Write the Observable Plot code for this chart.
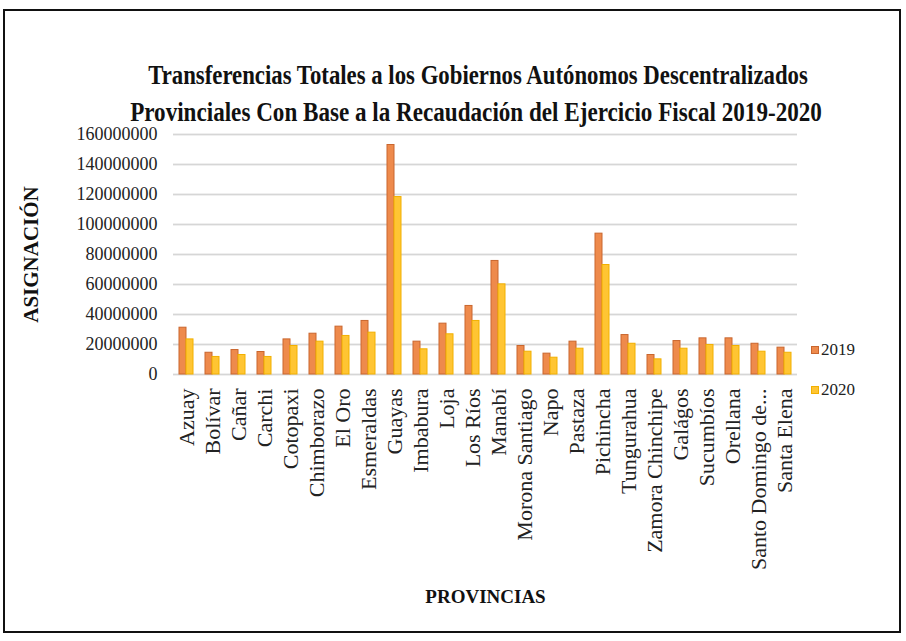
<!DOCTYPE html>
<html>
<head>
<meta charset="utf-8">
<script src="https://cdn.jsdelivr.net/npm/d3@7"></script>
<script src="https://cdn.jsdelivr.net/npm/@observablehq/plot@0.6"></script>
<style>
  html, body { margin: 0; padding: 0; background: #fff; }
  #wrap { position: relative; width: 906px; height: 641px; overflow: hidden; font-family: "Liberation Serif", "Times New Roman", serif; }
  #frame { position: absolute; left: 3px; top: 9px; width: 898px; height: 624px; border: 2px solid #111; box-sizing: border-box; }
  #title { position: absolute; left: 0; top: 0; }
  #chart { position: absolute; left: 0; top: 120px; }
  .leg { position: absolute; font-size: 17px; color: #222; display: flex; align-items: center; }
  .sw { width: 8px; height: 8px; margin-right: 2px; box-sizing: border-box; }
</style>
</head>
<body>
<div id="wrap">
  <div id="frame"></div>
  <svg id="title" width="906" height="130"></svg>
  <div id="chart"></div>
  <div id="legend"></div>
</div>
<script>
const provincias = ["Azuay","Bolívar","Cañar","Carchi","Cotopaxi","Chimborazo","El Oro","Esmeraldas","Guayas","Imbabura","Loja","Los Ríos","Manabí","Morona Santiago","Napo","Pastaza","Pichincha","Tungurahua","Zamora Chinchipe","Galágos","Sucumbíos","Orellana","Santo Domingo de los Tsáchilas","Santa Elena"];
const valores2019 = [31200000,14500000,16300000,15000000,23400000,27200000,31900000,35700000,153000000,21900000,33900000,45700000,75700000,19000000,13900000,21900000,93900000,26300000,13000000,22300000,24100000,24100000,20500000,17900000];
const valores2020 = [23400000,11700000,13000000,11700000,19000000,21900000,25700000,27900000,118300000,16800000,26800000,35700000,60100000,15200000,11200000,17200000,73000000,20500000,10100000,17200000,19700000,19000000,15200000,14500000];
const anios = ["2019","2020"];
const yTicks = [0,20000000,40000000,60000000,80000000,100000000,120000000,140000000,160000000];
const titulo1 = "Transferencias Totales a los Gobiernos Autónomos Descentralizados";
const titulo2 = "Provinciales  Con Base a la Recaudación del Ejercicio  Fiscal 2019-2020";
const etiquetaY = "ASIGNACIÓN";
const etiquetaX = "PROVINCIAS";

const colores = {"2019": "#EE8A4C", "2020": "#FFC533"};
const bordes = {"2019": "#C9662E", "2020": "#F2B000"};

const datos = [];
provincias.forEach((p, i) => {
  datos.push({provincia: p, anio: "2019", valor: valores2019[i]});
  datos.push({provincia: p, anio: "2020", valor: valores2020[i]});
});

const serif = "'Liberation Serif', 'Times New Roman', serif";

const chart = Plot.plot({
  width: 906,
  height: 500,
  marginLeft: 172,
  marginRight: 108,
  marginTop: 14,
  marginBottom: 246,
  style: {fontFamily: serif, background: "transparent", color: "#222", overflow: "visible"},
  fx: {domain: provincias, padding: 0},
  x: {domain: anios, paddingInner: 0, paddingOuter: 0.65, axis: null},
  y: {domain: [0, 160000000]},
  color: {domain: anios, range: [colores["2019"], colores["2020"]]},
  marks: [
    Plot.gridY(yTicks, {stroke: "#d6d6d6", strokeOpacity: 1, strokeWidth: 1.8}),
    Plot.barY(datos, {fx: "provincia", x: "anio", y: "valor", fill: "anio", stroke: d => bordes[d.anio], strokeWidth: 1}),
    Plot.axisY(yTicks, {tickSize: 0, tickPadding: 16, fontSize: 18, tickFormat: d => String(d), label: etiquetaY, labelAnchor: "center", labelOffset: 150, labelArrow: false}),
    Plot.axisFx({anchor: "bottom", tickSize: 0, tickPadding: 14, tickRotate: -90, fontSize: 22, label: etiquetaX, labelAnchor: "center", labelOffset: 228, labelArrow: false,
      tickFormat: d => d.length > 18 ? d.slice(0, 16) + "..." : d})
  ]
});
document.getElementById("chart").appendChild(chart);

const svg = d3.select(chart);
svg.selectAll('g[aria-label="y-axis label"] text, g[aria-label="fx-axis label"] text')
  .each(function() { const s = d3.select(this); s.text(s.text().replace(/[↑↓←→]\s*/g, "").trim()); })
  .style("font-weight", "bold").style("fill", "#111");
svg.selectAll('g[aria-label="y-axis label"] text').style("font-size", "21px");
svg.selectAll('g[aria-label="fx-axis label"] text').style("font-size", "19px");

// Title: natural text, horizontally condensed to the reference width
const t = d3.select("#title");
function linea(txt, cx, y, ancho) {
  const g = t.append("g");
  const el = g.append("text").attr("x", 0).attr("y", 0).attr("text-anchor", "middle")
    .style("font-family", serif).style("font-weight", "bold").style("font-size", "27px").style("fill", "#111")
    .text(txt);
  const natural = el.node().getComputedTextLength();
  g.attr("transform", `translate(${cx},${y}) scale(${ancho / natural},1)`);
}
linea(titulo1, 478, 84, 660);
linea(titulo2, 476, 121, 692);

// Legend
const leg = d3.select("#legend");
anios.forEach((a, i) => {
  const row = leg.append("div").attr("class", "leg").style("left", "811px").style("top", (340 + i * 40) + "px");
  row.append("div").attr("class", "sw").style("background", colores[a]).style("border", "1px solid " + bordes[a]);
  row.append("span").text(a);
});
</script>
</body>
</html>
